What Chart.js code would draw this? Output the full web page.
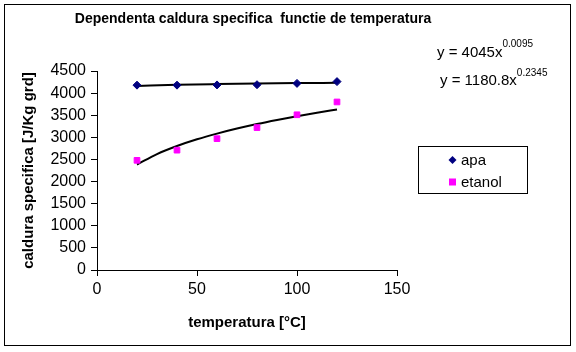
<!DOCTYPE html>
<html>
<head>
<meta charset="utf-8">
<script src="https://cdn.jsdelivr.net/npm/chart.js@4"></script>
<style>
  html, body { margin: 0; padding: 0; background: #fff; }
  #wrap { width: 576px; height: 352px; }
</style>
</head>
<body>
<div id="wrap"><canvas id="chart" width="576" height="352"></canvas></div>
<script>
// measured points
const temperatures = [20, 40, 60, 80, 100, 120];
const apa = [4180, 4180, 4185, 4190, 4220, 4260];
const etanol = [2480, 2710, 2970, 3220, 3510, 3800];

// trendlines
const trendApaX = [20, 40, 60, 80, 100, 120];
const trendApaY = [4162, 4189, 4205, 4217, 4226, 4233];
const trendEtanolX = [20, 30, 40, 50, 60, 70, 80, 90, 100, 110, 120];
const trendEtanolY = [2384, 2622, 2804, 2955, 3084, 3198, 3300, 3392, 3477, 3555, 3629];

const yTicks = [0, 500, 1000, 1500, 2000, 2500, 3000, 3500, 4000, 4500];
const xTicks = [0, 50, 100, 150];

const FONT = 'Liberation Sans, Arial, sans-serif';

function pts(xs, ys) {
    return xs.map((x, i) => ({ x: x, y: ys[i] }));
}

// border, title, equations and legend box drawn like the excel sheet
const extras = {
    id: 'extras',
    afterDraw(chart) {
        const ctx = chart.ctx;
        ctx.save();
        ctx.strokeStyle = '#000';
        ctx.lineWidth = 1;
        ctx.strokeRect(4.5, 4.5, 566, 341);

        ctx.fillStyle = '#000';
        ctx.textBaseline = 'middle';
        ctx.textAlign = 'center';
        ctx.font = 'bold 14px ' + FONT;
        ctx.fillText('Dependenta caldura specifica  functie de temperatura', 253, 19);

        ctx.textBaseline = 'alphabetic';
        ctx.textAlign = 'left';
        ctx.font = '15px ' + FONT;
        ctx.fillText('y = 4045x', 437, 57);
        let w = ctx.measureText('y = 4045x').width;
        ctx.font = '10px ' + FONT;
        ctx.fillText('0.0095', 437 + w, 47);

        ctx.font = '15px ' + FONT;
        ctx.fillText('y = 1180.8x', 440, 85);
        w = ctx.measureText('y = 1180.8x').width;
        ctx.font = '10px ' + FONT;
        ctx.fillText('0.2345', 440 + w, 76);

        // legend
        ctx.strokeRect(418.5, 146.5, 109, 47);
        ctx.font = '15px ' + FONT;
        ctx.textBaseline = 'middle';
        const ds = chart.data.datasets;
        const rows = [[ds[0], 160], [ds[1], 182]];
        rows.forEach(([d, y]) => {
            ctx.fillStyle = d.pointBackgroundColor;
            ctx.beginPath();
            if (d.pointStyle === 'rectRot') {
                ctx.moveTo(452.5, y - 4); ctx.lineTo(456.5, y);
                ctx.lineTo(452.5, y + 4); ctx.lineTo(448.5, y);
                ctx.closePath();
                ctx.fill();
            } else {
                ctx.fillRect(449, y - 3.5, 7, 7);
            }
            ctx.fillStyle = '#000';
            ctx.fillText(d.label, 461, y + 1);
        });
        ctx.restore();
    }
};

new Chart(document.getElementById('chart').getContext('2d'), {
    type: 'scatter',
    data: {
        datasets: [
            {
                label: 'apa',
                data: pts(temperatures, apa),
                pointStyle: 'rectRot',
                pointRadius: 4,
                pointBackgroundColor: '#000080',
                pointBorderColor: '#000080',
                showLine: false
            },
            {
                label: 'etanol',
                data: pts(temperatures, etanol),
                pointStyle: 'rect',
                pointRadius: 4,
                pointBackgroundColor: '#FF00FF',
                pointBorderColor: '#FF00FF',
                showLine: false
            },
            {
                label: 'trend apa',
                data: pts(trendApaX, trendApaY),
                showLine: true,
                pointRadius: 0,
                borderColor: '#000',
                borderWidth: 2,
                cubicInterpolationMode: 'monotone'
            },
            {
                label: 'trend etanol',
                data: pts(trendEtanolX, trendEtanolY),
                showLine: true,
                pointRadius: 0,
                borderColor: '#000',
                borderWidth: 2,
                cubicInterpolationMode: 'monotone'
            }
        ]
    },
    options: {
        responsive: false,
        animation: false,
        layout: { padding: { left: 14, top: 71, right: 179, bottom: 20 } },
        plugins: {
            legend: { display: false },
            tooltip: { enabled: false },
            title: { display: false }
        },
        scales: {
            x: {
                type: 'linear',
                min: 0,
                max: 150,
                afterBuildTicks: (s) => { s.ticks = xTicks.map(v => ({ value: v })); },
                afterFit: (s) => { s.height = 62; },
                border: { color: '#000', width: 1 },
                grid: { display: true, drawOnChartArea: false, drawTicks: true, tickLength: 6, color: '#000' },
                ticks: { color: '#000', font: { family: FONT, size: 16 }, padding: 4, maxRotation: 0, autoSkip: false, callback: (v) => String(v) },
                title: {
                    display: true,
                    text: 'temperatura [°C]',
                    color: '#000',
                    font: { family: FONT, size: 15, weight: 'bold' },
                    padding: { top: 6, bottom: 0 }
                }
            },
            y: {
                min: 0,
                max: 4500,
                afterBuildTicks: (s) => { s.ticks = yTicks.map(v => ({ value: v })); },
                afterFit: (s) => { s.width = 83; },
                border: { color: '#000', width: 1 },
                grid: { display: true, drawOnChartArea: false, drawTicks: true, tickLength: 6, color: '#000' },
                ticks: { color: '#000', font: { family: FONT, size: 16 }, padding: 5, autoSkip: false, callback: (v) => String(v) },
                title: {
                    display: true,
                    text: 'caldura specifica [J/Kg grd]',
                    color: '#000',
                    font: { family: FONT, size: 15, weight: 'bold' },
                    padding: { top: 6, bottom: 4 }
                }
            }
        }
    },
    plugins: [extras]
});
</script>
</body>
</html>
